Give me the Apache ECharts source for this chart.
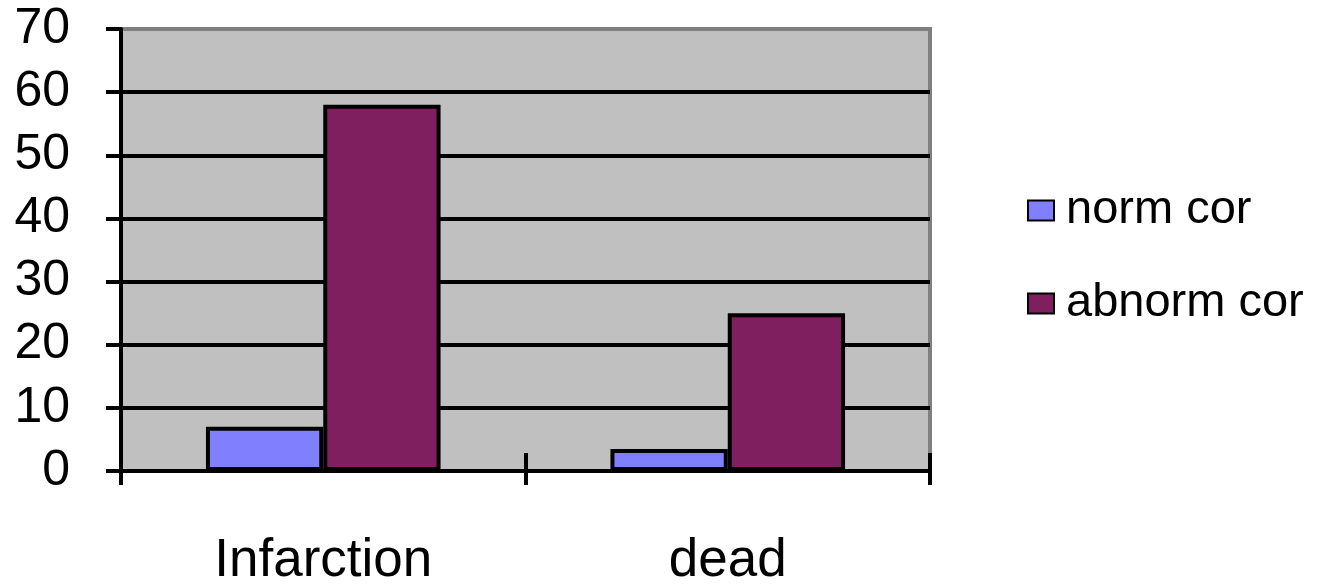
<!DOCTYPE html>
<html>
<head>
<meta charset="utf-8">
<script src="https://cdn.jsdelivr.net/npm/echarts@6/dist/echarts.min.js"></script>
<style>
  html, body { margin: 0; padding: 0; background: #fff; }
  #chart { width: 1318px; height: 588px; }
</style>
</head>
<body>
<div id="chart"></div>
<script>
// Categories and series values
const categories = ['Infarction', 'dead'];
const normCor = [7, 3.5];
const abnormCor = [58, 25];
const seriesNames = ['norm cor', 'abnorm cor'];
const yTicks = { min: 0, max: 70, interval: 10 };

const FONT = 'Liberation Sans, Arial, sans-serif';

const chart = echarts.init(document.getElementById('chart'), null, { renderer: 'canvas' });

chart.setOption({
  animation: false,
  backgroundColor: '#ffffff',
  grid: {
    left: 121, right: 388, top: 29, bottom: 112,
    show: true,
    backgroundColor: '#C0C0C0',
    borderColor: '#808080',
    borderWidth: 4
  },
  legend: {
    orient: 'vertical',
    left: 1022,
    top: 181,
    itemWidth: 26,
    itemHeight: 20,
    itemGap: 44,
    icon: 'rect',
    data: seriesNames,
    textStyle: { fontFamily: FONT, fontSize: 47, color: '#000', lineHeight: 49, padding: [0, 0, 0, 7] }
  },
  xAxis: [
    {
      type: 'category',
      data: categories,
      position: 'bottom',
      axisLine: { show: true, lineStyle: { color: '#000', width: 4 } },
      axisTick: { show: true, length: 14, lineStyle: { color: '#000', width: 4 } },
      axisLabel: { fontFamily: FONT, fontSize: 53, color: '#000', margin: 64 },
      splitLine: { show: false }
    },
    {
      // inner half of the category tick marks
      type: 'category',
      data: categories,
      position: 'bottom',
      axisLine: { show: false },
      axisTick: { show: true, inside: true, length: 18, lineStyle: { color: '#000', width: 4 } },
      axisLabel: { show: false },
      splitLine: { show: false }
    }
  ],
  yAxis: {
    type: 'value',
    min: yTicks.min,
    max: yTicks.max,
    interval: yTicks.interval,
    axisLine: { show: true, lineStyle: { color: '#000', width: 4 } },
    axisTick: { show: true, length: 15, lineStyle: { color: '#000', width: 4 } },
    axisLabel: { fontFamily: FONT, fontSize: 50, color: '#000', margin: 51, padding: [10, 0, 0, 0] },
    splitLine: {
      show: true,
      lineStyle: {
        color: ['#000', '#000', '#000', '#000', '#000', '#000', '#000', 'rgba(0,0,0,0)'],
        width: 4
      }
    }
  },
  series: [
    {
      name: seriesNames[0],
      type: 'bar',
      data: normCor,
      barWidth: '29%',
      barGap: '0%',
      itemStyle: { color: '#8080FF', borderColor: '#000', borderWidth: 4 }
    },
    {
      name: seriesNames[1],
      type: 'bar',
      data: abnormCor,
      barWidth: '29%',
      barGap: '0%',
      itemStyle: { color: '#7F1F5F', borderColor: '#000', borderWidth: 4 }
    }
  ]
});
</script>
</body>
</html>
